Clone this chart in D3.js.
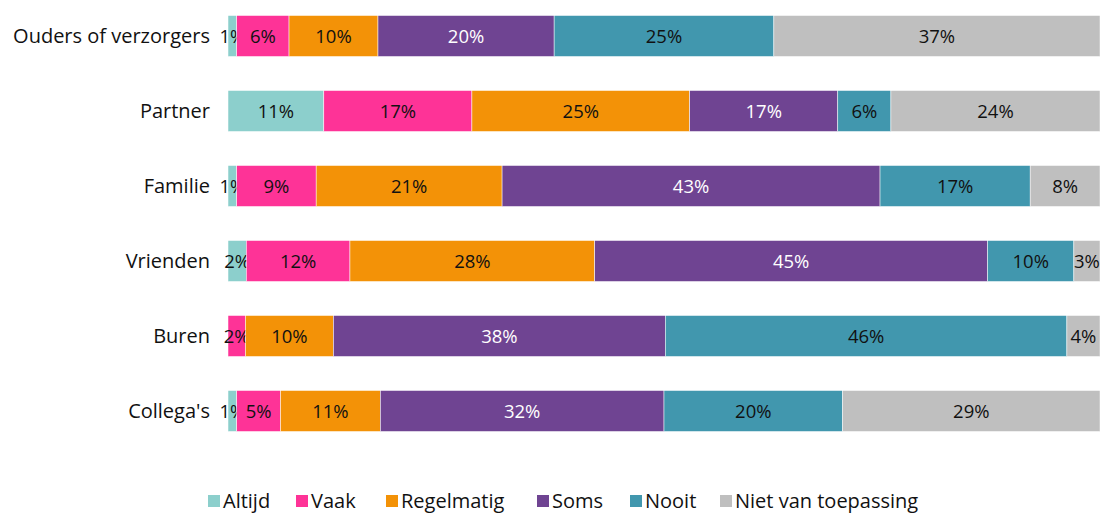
<!DOCTYPE html>
<html>
<head>
<meta charset="utf-8">
<script src="https://cdn.jsdelivr.net/npm/d3@7"></script>
<style>
  body { margin: 0; background: #fff; }
  text { font-family: "Open Sans", sans-serif; }
</style>
</head>
<body>
<div id="chart"></div>
<script>
// categories and series
var categories = ["Ouders of verzorgers", "Partner", "Familie", "Vrienden", "Buren", "Collega's"];
var seriesNames = ["Altijd", "Vaak", "Regelmatig", "Soms", "Nooit", "Niet van toepassing"];
var colors = ["#8ccfcc", "#fe3397", "#f39207", "#6f4492", "#4197ae", "#bfbfbf"];

// shares per category (percent), in series order
var altijd     = [1.0, 11.0, 1.0, 2.1, 0.0, 1.0];
var vaak       = [6.0, 17.0, 9.1, 11.9, 2.0, 5.0];
var regelmatig = [10.2, 25.0, 21.3, 28.1, 10.1, 11.4];
var soms       = [20.2, 17.0, 43.3, 45.1, 38.1, 32.4];
var nooit      = [25.2, 6.1, 17.2, 9.9, 46.1, 20.4];
var nvt        = [37.4, 24.0, 8.0, 3.0, 3.8, 29.4];

var width = 1101, height = 514;

var rows = categories.map(function (c, i) {
  return { cat: c, Altijd: altijd[i], Vaak: vaak[i], Regelmatig: regelmatig[i],
    Soms: soms[i], Nooit: nooit[i], "Niet van toepassing": nvt[i] };
});
rows.forEach(function (r) {
  r.total = d3.sum(seriesNames, function (s) { return r[s]; });
});
// normalise to 100%
var normRows = rows.map(function (r) {
  var o = { cat: r.cat };
  seriesNames.forEach(function (s) { o[s] = r[s] / r.total; });
  return o;
});

var stack = d3.stack().keys(seriesNames);
var layers = stack(normRows);

var svg = d3.select("#chart").append("svg")
  .attr("width", width)
  .attr("height", height);

var x = d3.scaleLinear().domain([0, 1]).range([228, 1100]);
var y = d3.scaleBand()
  .domain(categories)
  .range([-1.5, 448.5])
  .paddingInner(0.4533)
  .paddingOuter(0.2267);

var color = d3.scaleOrdinal().domain(seriesNames).range(colors);

// bars
var layer = svg.append("g").selectAll("g")
  .data(layers)
  .enter().append("g")
  .attr("fill", function (d) { return color(d.key); });

layer.selectAll("rect")
  .data(function (d) { return d; })
  .enter().append("rect")
  .attr("x", function (d) { return x(d[0]); })
  .attr("y", function (d) { return y(d.data.cat); })
  .attr("width", function (d) { return Math.max(0, x(d[1]) - x(d[0])); })
  .attr("height", y.bandwidth())
  .attr("stroke", "#fff")
  .attr("stroke-width", 0.5);

// value labels
layer.selectAll("text")
  .data(function (d) {
    return d.map(function (p, i) { p.key = d.key; p.raw = rows[i][d.key]; return p; })
      .filter(function (p) { return p.raw > 0; });
  })
  .enter().append("text")
  .attr("x", function (p) { return (x(p[0]) + x(p[1])) / 2; })
  .attr("y", function (p) { return y(p.data.cat) + y.bandwidth() / 2; })
  .attr("dy", "0.36em")
  .attr("text-anchor", "middle")
  .attr("font-size", 18.5)
  .attr("fill", function (p) { return p.key === "Soms" ? "#fff" : "#111"; })
  .text(function (p) { return Math.round(p.raw) + "%"; });

// category axis labels
svg.append("g").selectAll("text")
  .data(categories)
  .enter().append("text")
  .attr("x", 210)
  .attr("y", function (c) { return y(c) + y.bandwidth() / 2; })
  .attr("dy", "0.36em")
  .attr("text-anchor", "end")
  .attr("font-size", 20)
  .attr("fill", "#111")
  .text(function (c) { return c; });

// legend
var legendX = [208, 296, 386, 537, 630, 720];
var legend = svg.append("g").selectAll("g")
  .data(seriesNames)
  .enter().append("g")
  .attr("transform", function (d, i) { return "translate(" + legendX[i] + ",501)"; });

legend.append("rect")
  .attr("x", 0).attr("y", -6)
  .attr("width", 12).attr("height", 12)
  .attr("fill", function (d) { return color(d); });

legend.append("text")
  .attr("x", 15)
  .attr("dy", "0.36em")
  .attr("font-size", 20)
  .attr("fill", "#111")
  .text(function (d) { return d; });
</script>
</body>
</html>
